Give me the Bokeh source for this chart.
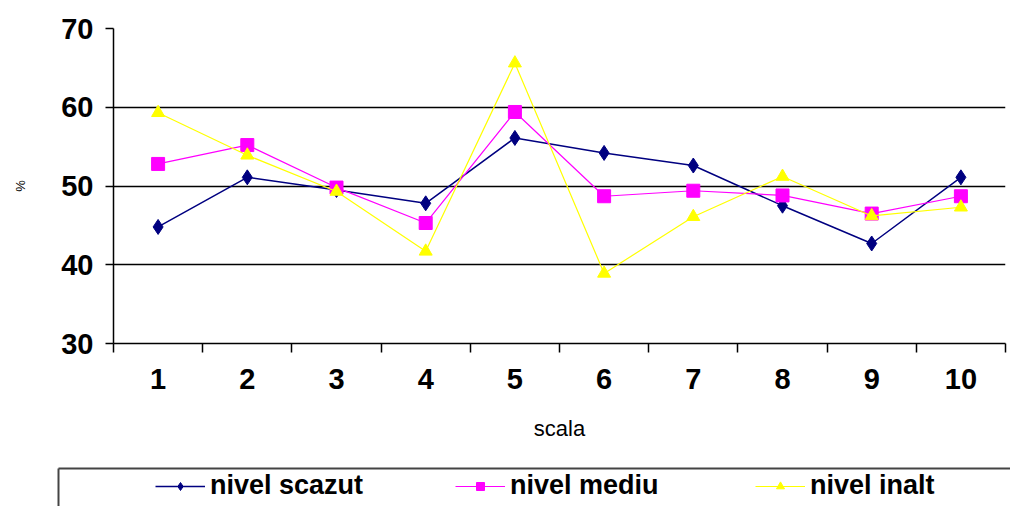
from bokeh.plotting import figure
from bokeh.models import Range1d, FixedTicker, Legend, LegendItem, LinearAxis
from bokeh.layouts import column
from bokeh.embed import file_html
from bokeh.resources import INLINE

# ---- data ----
scale = [1, 2, 3, 4, 5, 6, 7, 8, 9, 10]
scale_labels = ["1", "2", "3", "4", "5", "6", "7", "8", "9", "10"]
nivel_scazut = [44.8, 51.1, 49.5, 47.8, 56.1, 54.2, 52.6, 47.5, 42.7, 51.1]
nivel_mediu = [52.8, 55.2, 49.8, 45.3, 59.4, 48.7, 49.4, 48.8, 46.5, 48.7]
nivel_inalt = [59.3, 53.9, 49.3, 41.7, 65.6, 38.9, 46.1, 51.2, 46.2, 47.3]
series_names = ["nivel scazut", "nivel mediu", "nivel inalt"]
y_ticks = [30, 40, 50, 60, 70]
boundaries = [0.5, 1.5, 2.5, 3.5, 4.5, 5.5, 6.5, 7.5, 8.5, 9.5, 10.5]

FONT = "Liberation Sans"
COLORS = ["#000080", "#FF00FF", "#FFFF00"]
MARKERS = ["diamond", "square", "triangle"]
SIZES = [15, 13, 13]
WIDTHS = [1.5, 1.2, 1.2]
series = [nivel_scazut, nivel_mediu, nivel_inalt]

p = figure(width=1010, height=460, output_backend="svg", toolbar_location=None,
           x_range=Range1d(0.5, 10.5), y_range=Range1d(30, 70),
           min_border_left=113, min_border_right=5, min_border_top=28,
           min_border_bottom=117)
p.outline_line_color = None

# grid
p.xgrid.visible = False
p.ygrid.ticker = FixedTicker(ticks=y_ticks)
p.ygrid.grid_line_color = "black"
p.ygrid.grid_line_width = 1.5

# y axis
p.yaxis.ticker = FixedTicker(ticks=y_ticks)
p.yaxis.axis_line_color = "black"
p.yaxis.axis_line_width = 1.5
p.yaxis.major_tick_out = 8
p.yaxis.major_tick_in = 0
p.yaxis.major_tick_line_width = 1.5
p.yaxis.minor_tick_line_color = None
p.yaxis.major_label_text_font = FONT
p.yaxis.major_label_text_font_style = "bold"
p.yaxis.major_label_text_font_size = "29px"
p.yaxis.major_label_text_color = "black"
p.yaxis.major_label_standoff = 12
p.yaxis.axis_label = "%"
p.yaxis.axis_label_text_font = FONT
p.yaxis.axis_label_text_font_style = "normal"
p.yaxis.axis_label_text_font_size = "13px"
p.yaxis.axis_label_text_color = "black"
p.yaxis.axis_label_standoff = 30

# x axis
p.xaxis.ticker = FixedTicker(ticks=scale, minor_ticks=boundaries)
p.xaxis.major_label_overrides = {s: l for s, l in zip(scale, scale_labels)}
p.xaxis.axis_line_color = "black"
p.xaxis.axis_line_width = 1.5
p.xaxis.major_tick_out = 0
p.xaxis.major_tick_in = 0
p.xaxis.minor_tick_out = 9
p.xaxis.minor_tick_in = 0
p.xaxis.minor_tick_line_color = "black"
p.xaxis.minor_tick_line_width = 1.5
p.xaxis.major_label_text_font = FONT
p.xaxis.major_label_text_font_style = "bold"
p.xaxis.major_label_text_font_size = "29px"
p.xaxis.major_label_text_color = "black"
p.xaxis.major_label_standoff = 16
p.xaxis.axis_label = "scala"
p.xaxis.axis_label_text_font = FONT
p.xaxis.axis_label_text_font_style = "normal"
p.xaxis.axis_label_text_font_size = "22px"
p.xaxis.axis_label_text_color = "black"
p.xaxis.axis_label_standoff = 24

for ys, c, mk, sz, lw in zip(series, COLORS, MARKERS, SIZES, WIDTHS):
    p.line(scale, ys, line_color=c, line_width=lw)
    p.scatter(scale, ys, marker=mk, size=sz, fill_color=c, line_color=c)

# ---- legend strip (separate figure so it can sit below the axis) ----
p2 = figure(width=1010, height=46, output_backend="svg", toolbar_location=None,
            x_range=Range1d(0, 1), y_range=Range1d(0, 1),
            x_axis_type=None, y_axis_type=None,
            min_border_left=58, min_border_right=0, min_border_top=8,
            min_border_bottom=0)
p2.outline_line_color = None
p2.xgrid.visible = False
p2.ygrid.visible = False

for side in ("left", "above"):
    ax = LinearAxis(ticker=FixedTicker(ticks=[]), axis_line_color="#444444",
                    axis_line_width=2, major_tick_line_color=None,
                    minor_tick_line_color=None, major_label_standoff=0)
    p2.add_layout(ax, side)

items = []
for name, ys, c, mk, sz, lw in zip(series_names, series, COLORS, MARKERS, SIZES, WIDTHS):
    # data lies outside this strip's ranges, so only the legend glyphs show
    r1 = p2.line(scale, ys, line_color=c, line_width=lw)
    r2 = p2.scatter(scale, ys, marker=mk, size=sz - 3, fill_color=c, line_color=c)
    items.append(LegendItem(label=name, renderers=[r1, r2]))

legend = Legend(items=items, orientation="horizontal", location=(97, 5),
                padding=0, spacing=0, glyph_width=50, glyph_height=20,
                label_standoff=5, label_width=245,
                label_text_font=FONT, label_text_font_style="bold",
                label_text_font_size="27px", label_text_color="black",
                border_line_color=None, background_fill_alpha=0)
p2.add_layout(legend, "center")

layout = column(column(p), column(p2), spacing=0)
open("out.html", "w").write(file_html(layout, INLINE))
